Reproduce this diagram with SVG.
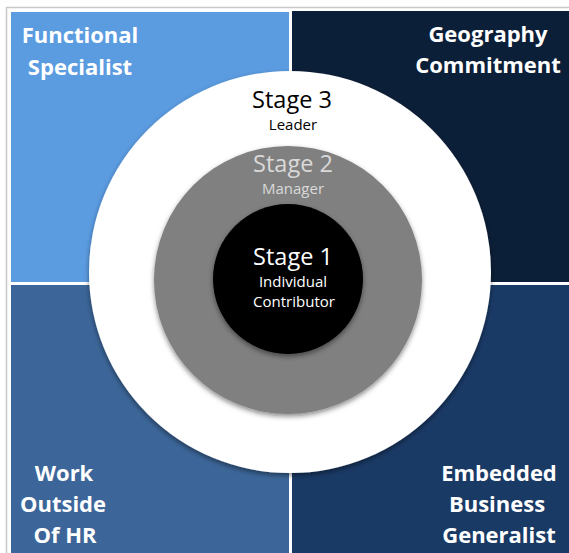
<svg xmlns="http://www.w3.org/2000/svg" width="569" height="553" viewBox="0 0 569 553">
<defs>
<style>
.corner{font-family:"Open Sans","Liberation Sans",sans-serif;font-weight:bold;font-size:22px;fill:#ffffff;text-anchor:middle}
.stage{font-family:"Open Sans","Liberation Sans",sans-serif;font-size:23.5px;text-anchor:middle}
.role{font-family:"Open Sans","Liberation Sans",sans-serif;font-size:15px;text-anchor:middle}
</style>
<filter id="sh" x="-10%" y="-10%" width="120%" height="125%">
<feDropShadow dx="0" dy="2.5" stdDeviation="2.5" flood-color="#000" flood-opacity="0.45"/>
</filter>
</defs>
<rect width="569" height="553" fill="#ffffff"/>
<rect x="6.5" y="7.5" width="580" height="560" fill="none" stroke="#c8c8c8" stroke-width="1.5"/>
<g id="functional-specialist">
<rect x="11" y="12" width="278" height="270" fill="#5B9BE0"/>
<text class="corner" x="80" y="43">Functional</text>
<text class="corner" x="80" y="75">Specialist</text>
</g>
<g id="geography-commitment">
<rect x="292" y="11" width="277" height="271" fill="#0C1F38"/>
<text class="corner" x="488" y="42">Geography</text>
<text class="corner" x="488" y="73">Commitment</text>
</g>
<g id="work-outside-hr">
<rect x="11" y="285" width="278" height="268" fill="#3C6699"/>
<text class="corner" x="64" y="481">Work</text>
<text class="corner" x="63" y="512">Outside</text>
<text class="corner" x="65" y="543">Of HR</text>
</g>
<g id="embedded-business-generalist">
<rect x="292" y="285" width="277" height="268" fill="#1A3A66"/>
<text class="corner" x="499" y="481">Embedded</text>
<text class="corner" x="497" y="512">Business</text>
<text class="corner" x="499" y="543">Generalist</text>
</g>
<g id="stage3">
<circle cx="290" cy="272" r="201" fill="#ffffff" filter="url(#sh)"/>
<text class="stage" x="292" y="108" fill="#000000">Stage 3</text>
<text class="role" x="293" y="130" fill="#000000">Leader</text>
</g>
<g id="stage2">
<circle cx="288" cy="280" r="134" fill="#808080" filter="url(#sh)"/>
<text class="stage" x="293" y="172" fill="#D9D9D9">Stage 2</text>
<text class="role" x="293" y="194" fill="#D9D9D9">Manager</text>
</g>
<g id="stage1">
<circle cx="288" cy="279" r="75" fill="#000000" filter="url(#sh)"/>
<text class="stage" x="293" y="265" fill="#ffffff">Stage 1</text>
<text class="role" x="293" y="287" fill="#ffffff">Individual</text>
<text class="role" x="294" y="307" fill="#ffffff">Contributor</text>
</g>
<g id="connectors"/>
</svg>
